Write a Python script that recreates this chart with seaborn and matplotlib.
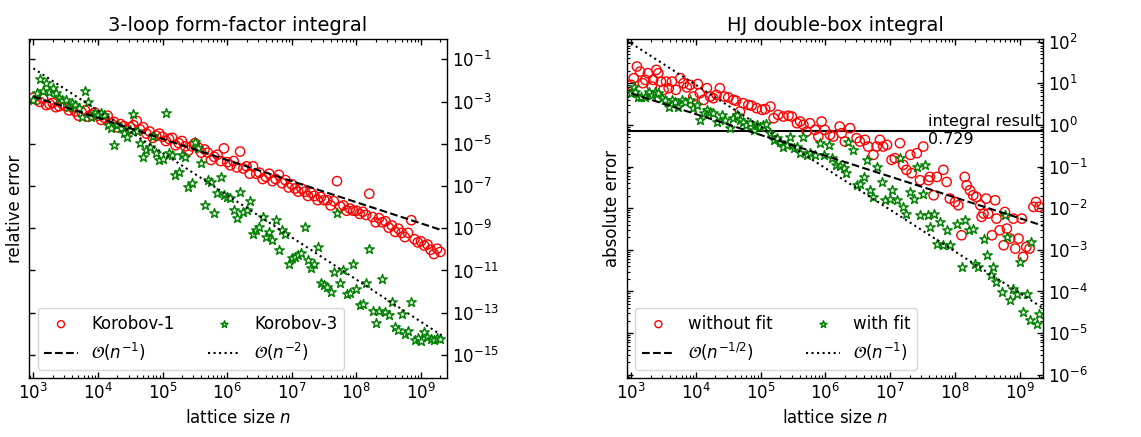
import numpy as np
import pandas as pd
import matplotlib
matplotlib.use("Agg")
import matplotlib.pyplot as plt
from matplotlib.ticker import LogLocator, NullLocator, FixedLocator
import seaborn as sns

# ---------------- data (log10 values) ----------------
# left panel: lattice sizes (log10 n)
left_x_exp = [
    3.00, 3.05, 3.10, 3.15, 3.20, 3.25, 3.30, 3.35, 3.40, 3.45,
    3.50, 3.55, 3.60, 3.65, 3.70, 3.75, 3.80, 3.85, 3.90, 3.95,
    4.00, 4.05, 4.10, 4.15, 4.20, 4.25, 4.30, 4.35, 4.40, 4.45,
    4.50, 4.55, 4.60, 4.65, 4.70, 4.75, 4.80, 4.85, 4.90, 4.95,
    5.00, 5.05, 5.10, 5.15, 5.20, 5.25, 5.30, 5.35, 5.40, 5.45,
    5.50, 5.55, 5.60, 5.65, 5.70, 5.75, 5.80, 5.85, 5.90, 5.95,
    6.00, 6.05, 6.10, 6.15, 6.20, 6.25, 6.30, 6.35, 6.40, 6.45,
    6.50, 6.55, 6.60, 6.65, 6.70, 6.75, 6.80, 6.85, 6.90, 6.95,
    7.00, 7.05, 7.10, 7.15, 7.20, 7.25, 7.30, 7.35, 7.40, 7.45,
    7.50, 7.55, 7.60, 7.65, 7.70, 7.75, 7.80, 7.85, 7.90, 7.95,
    8.00, 8.05, 8.10, 8.15, 8.20, 8.25, 8.30, 8.35, 8.40, 8.45,
    8.50, 8.55, 8.60, 8.65, 8.70, 8.75, 8.80, 8.85, 8.90, 8.95,
    9.00, 9.05, 9.10, 9.15, 9.20, 9.25, 9.30,
]
korobov1_exp = [
    -2.82, -2.92, -3.02, -2.87, -3.17, -3.12, -3.07, -3.27, -3.22, -3.12,
    -3.22, -3.42, -3.27, -3.47, -3.67, -3.52, -3.42, -3.72, -3.62, -3.52,
    -3.67, -3.87, -3.77, -3.67, -4.02, -3.97, -4.22, -4.07, -4.17, -4.37,
    -4.22, -4.12, -3.92, -4.32, -4.22, -4.52, -4.42, -4.72, -4.62, -4.52,
    -4.67, -4.87, -4.77, -4.72, -5.07, -4.97, -4.87, -5.12, -5.32, -5.12,
    -4.97, -5.17, -5.42, -5.27, -5.42, -5.77, -5.62, -5.52, -5.82, -5.22,
    -5.87, -6.02, -5.82, -6.12, -5.37, -6.17, -6.07, -6.42, -6.07, -6.42,
    -6.37, -6.67, -6.57, -6.42, -6.77, -6.67, -6.47, -6.87, -6.72, -7.07,
    -6.92, -7.12, -7.27, -7.12, -7.27, -7.47, -7.32, -7.47, -7.67, -7.52,
    -7.67, -7.67, -7.92, -7.72, -6.77, -7.97, -7.92, -8.17, -8.07, -8.17,
    -8.17, -8.32, -8.22, -8.37, -7.37, -8.47, -8.72, -8.52, -8.72, -8.67,
    -8.97, -8.87, -9.17, -9.02, -9.22, -9.42, -9.22, -8.62, -9.52, -9.67,
    -9.62, -9.82, -9.77, -10.02, -10.22, -9.97, -10.12,
]
korobov3_exp = [
    -2.93, -2.61, -1.95, -2.48, -2.14, -2.53, -2.37, -2.61, -2.85, -2.93,
    -2.93, -3.24, -3.09, -3.16, -3.32, -3.72, -2.49, -3.00, -3.72, -3.56,
    -3.64, -3.56, -3.64, -4.11, -4.27, -5.06, -4.11, -4.27, -4.51, -4.67,
    -4.35, -3.60, -4.40, -4.98, -5.61, -5.29, -5.14, -4.63, -5.45, -5.77,
    -5.70, -3.56, -5.45, -5.53, -6.48, -6.32, -5.53, -5.61, -7.03, -6.88,
    -4.90, -5.20, -5.93, -7.90, -6.72, -6.80, -8.27, -7.35, -6.56, -7.43,
    -7.50, -7.59, -8.14, -8.53, -7.27, -8.22, -8.14, -7.71, -9.25, -9.09,
    -8.93, -8.46, -9.40, -9.17, -9.56, -8.61, -10.04, -9.09, -9.25, -10.67,
    -10.43, -10.35, -10.27, -10.19, -8.93, -10.51, -10.90, -10.67, -9.90, -11.60,
    -11.70, -11.77, -12.00, -11.06, -8.30, -11.58, -11.00, -12.10, -12.05, -10.70,
    -11.90, -12.64, -12.60, -11.58, -9.96, -12.90, -13.50, -12.90, -11.40, -12.96,
    -13.10, -12.50, -13.67, -13.83, -13.04, -14.00, -13.85, -12.50, -14.27, -14.20,
    -14.33, -13.90, -14.14, -14.25, -14.30, -14.18, -14.22,
]

# right panel
nofit_x_exp = [
    3.00, 3.04, 3.09, 3.14, 3.18, 3.22, 3.26, 3.32, 3.34, 3.39,
    3.42, 3.46, 3.50, 3.54, 3.58, 3.63, 3.69, 3.76, 3.81, 3.86,
    3.91, 3.96, 4.03, 4.06, 4.12, 4.17, 4.22, 4.27, 4.32, 4.37,
    4.44, 4.50, 4.58, 4.62, 4.68, 4.73, 4.81, 4.86, 4.94, 5.02,
    5.07, 5.15, 5.20, 5.27, 5.35, 5.43, 5.48, 5.56, 5.61, 5.66,
    5.71, 5.76, 5.84, 5.89, 5.94, 5.99, 6.07, 6.12, 6.22, 6.25,
    6.30, 6.38, 6.48, 6.53, 6.61, 6.66, 6.74, 6.79, 6.84, 6.89,
    6.95, 7.02, 7.07, 7.15, 7.20, 7.25, 7.31, 7.33, 7.41, 7.46,
    7.51, 7.59, 7.61, 7.67, 7.72, 7.82, 7.87, 7.92, 8.00, 8.05,
    8.10, 8.15, 8.18, 8.23, 8.28, 8.33, 8.39, 8.41, 8.44, 8.48,
    8.51, 8.57, 8.62, 8.64, 8.69, 8.75, 8.77, 8.80, 8.85, 8.90,
    8.93, 8.98, 9.03, 9.05, 9.10, 9.15, 9.21, 9.25, 9.30,
]
nofit_exp = [
    0.96, 1.12, 1.40, 1.28, 1.00, 1.08, 1.24, 0.92, 1.08, 1.32,
    1.24, 1.04, 0.84, 1.04, 0.88, 1.04, 0.84, 1.12, 1.00, 0.90,
    0.96, 0.68, 0.98, 0.76, 0.60, 0.88, 0.68, 0.64, 0.72, 0.88,
    0.68, 0.66, 0.60, 0.58, 0.32, 0.52, 0.48, 0.46, 0.40, 0.36,
    0.38, 0.44, 0.16, 0.24, 0.20, 0.22, 0.20, 0.04, 0.08, 0.00,
    -0.16, 0.04, -0.12, -0.28, 0.08, -0.12, -0.24, -0.28, -0.04, -0.20,
    -0.40, -0.08, -0.32, -0.40, -0.36, -0.52, -0.72, -0.52, -0.36, -0.52,
    -0.48, -0.84, -0.80, -0.44, -0.96, -1.08, -0.72, -1.16, -0.68, -1.33,
    -0.52, -1.33, -1.25, -1.69, -1.25, -1.08, -1.37, -1.77, -1.85, -1.93,
    -2.65, -1.25, -1.45, -1.57, -1.69, -1.73, -1.93, -2.21, -2.13, -1.77,
    -2.13, -2.65, -1.81, -2.25, -2.53, -2.89, -2.09, -2.49, -2.73, -2.25,
    -2.97, -2.73, -2.25, -3.17, -2.93, -2.97, -1.97, -1.85, -1.97,
]
withfit_x_exp = [
    3.00, 3.04, 3.06, 3.11, 3.16, 3.22, 3.27, 3.32, 3.37, 3.42,
    3.47, 3.52, 3.58, 3.63, 3.68, 3.73, 3.78, 3.83, 3.91, 3.96,
    4.01, 4.06, 4.12, 4.17, 4.22, 4.27, 4.32, 4.40, 4.45, 4.53,
    4.58, 4.63, 4.68, 4.73, 4.78, 4.84, 4.89, 4.94, 4.99, 5.04,
    5.09, 5.15, 5.20, 5.25, 5.30, 5.35, 5.40, 5.46, 5.51, 5.56,
    5.61, 5.66, 5.71, 5.76, 5.84, 5.92, 5.97, 6.05, 6.10, 6.17,
    6.23, 6.28, 6.32, 6.35, 6.43, 6.48, 6.53, 6.59, 6.64, 6.69,
    6.74, 6.79, 6.87, 6.92, 7.00, 7.02, 7.10, 7.15, 7.20, 7.25,
    7.31, 7.36, 7.41, 7.46, 7.51, 7.54, 7.59, 7.61, 7.67, 7.72,
    7.77, 7.82, 7.87, 7.92, 8.03, 8.10, 8.15, 8.21, 8.28, 8.31,
    8.36, 8.44, 8.49, 8.55, 8.59, 8.64, 8.72, 8.77, 8.80, 8.85,
    8.90, 8.95, 9.00, 9.05, 9.11, 9.16, 9.18, 9.26, 9.30,
]
withfit_exp = [
    0.76, 0.92, 0.80, 0.68, 0.66, 0.68, 0.80, 0.72, 0.80, 0.76,
    0.64, 0.60, 0.44, 0.60, 0.56, 0.44, 0.60, 0.56, 0.60, 0.40,
    0.48, 0.12, 0.28, 0.36, 0.32, 0.28, 0.08, 0.24, 0.12, -0.08,
    0.16, 0.24, 0.12, 0.08, 0.00, 0.04, -0.12, 0.00, -0.04, 0.00,
    0.02, -0.20, -0.36, -0.32, -0.40, -0.52, -0.48, -0.28, -0.56, -0.52,
    -0.68, -0.28, -0.72, -0.68, -0.72, -0.44, -0.72, -0.48, -0.80, -0.96,
    -0.98, -1.04, -1.16, -0.40, -0.60, -1.45, -1.41, -1.25, -0.84, -1.57,
    -1.73, -1.00, -1.37, -1.81, -1.77, -1.57, -1.80, -0.80, -1.97, -2.13,
    -1.61, -1.77, -1.00, -2.17, -1.65, -0.96, -2.17, -2.45, -2.13, -2.85,
    -2.33, -2.89, -2.53, -2.89, -2.37, -3.41, -2.29, -2.53, -2.49, -3.33,
    -3.41, -2.73, -3.13, -3.61, -3.41, -3.77, -4.01, -2.17, -2.69, -4.21,
    -3.93, -4.05, -3.29, -4.49, -4.05, -4.69, -2.81, -4.77, -4.53,
]

# reference scaling lines: coefficient and exponent, drawn between end points
left_ref_range = [3.0, 9.32]
left_dash_coef, left_dash_pow = 10 ** 0.23, -1.0
left_dot_coef, left_dot_pow = 10 ** 4.57, -2.0
right_ref_range = [3.0, 9.36]
right_dash_coef, right_dash_pow = 10 ** 2.258, -0.5
right_dot_coef, right_dot_pow = 10 ** 4.96, -1.0
integral_result = 0.729

# ---------------- style ----------------
sns.set_theme(style="ticks")
plt.rcParams.update({
    "font.family": ["DejaVu Sans"],
    "text.color": "black",
    "axes.labelcolor": "black",
    "axes.edgecolor": "black",
    "xtick.color": "black",
    "ytick.color": "black",
    "axes.linewidth": 1.0,
    "mathtext.fontset": "dejavusans",
})

fig = plt.figure(figsize=(11.41, 4.37), dpi=100)
ax1 = fig.add_axes([0.0257, 0.135, 0.3658, 0.776])
ax2 = fig.add_axes([0.5493, 0.135, 0.3651, 0.776])

FS = 12


def scatter_pair(ax, xe1, ye1, lab1, xe2, ye2, lab2):
    d1 = pd.DataFrame({"n": 10 ** np.array(xe1), "err": 10 ** np.array(ye1)})
    d2 = pd.DataFrame({"n": 10 ** np.array(xe2), "err": 10 ** np.array(ye2)})
    sns.scatterplot(data=d1, x="n", y="err", ax=ax, marker="o", s=45,
                    facecolor="none", edgecolor="red", linewidth=1.0,
                    label=lab1, zorder=2)
    sns.scatterplot(data=d2, x="n", y="err", ax=ax, marker="*", s=50,
                    facecolor="white", edgecolor="green", linewidth=1.05,
                    label=lab2, zorder=2)


def ref_lines(ax, rng, c1, p1, lab1, c2, p2, lab2):
    n = 10 ** np.array(rng)
    sns.lineplot(x=n, y=c1 * n ** p1, ax=ax, color="black", linestyle="--",
                 linewidth=1.5, label=lab1, zorder=3)
    sns.lineplot(x=n, y=c2 * n ** p2, ax=ax, color="black", linestyle=":",
                 linewidth=1.5, label=lab2, zorder=3)


scatter_pair(ax1, left_x_exp, korobov1_exp, "Korobov-1",
             left_x_exp, korobov3_exp, "Korobov-3")
ref_lines(ax1, left_ref_range, left_dash_coef, left_dash_pow,
          r"$\mathcal{O}(n^{-1})$", left_dot_coef, left_dot_pow,
          r"$\mathcal{O}(n^{-2})$")

scatter_pair(ax2, nofit_x_exp, nofit_exp, "without fit",
             withfit_x_exp, withfit_exp, "with fit")
ref_lines(ax2, right_ref_range, right_dash_coef, right_dash_pow,
          r"$\mathcal{O}(n^{-1/2})$", right_dot_coef, right_dot_pow,
          r"$\mathcal{O}(n^{-1})$")
ax2.axhline(integral_result, color="black", linewidth=1.5, zorder=1)
ax2.text(10 ** 7.58, integral_result, "integral result\n0.729",
         ha="left", va="center", fontsize=11.5, linespacing=1.25)

for ax in (ax1, ax2):
    ax.set_xscale("log")
    ax.set_yscale("log")
    ax.tick_params(axis="both", which="both", direction="in",
                   top=True, right=True, left=True, bottom=True,
                   labelleft=False, labelright=True, labelsize=FS)
    ax.tick_params(which="major", length=4, width=1)
    ax.tick_params(which="minor", length=2, width=0.8)
    ax.xaxis.set_major_locator(FixedLocator([10.0 ** k for k in range(3, 10)]))
    ax.xaxis.set_minor_locator(LogLocator(base=10, subs=np.arange(2, 10), numticks=20))
    ax.set_xlabel(r"lattice size $n$", fontsize=FS)
    h, l = ax.get_legend_handles_labels()
    order = [0, 2, 1, 3]
    ax.legend([h[i] for i in order], [l[i] for i in order], ncol=2,
              loc="lower left", fontsize=FS, frameon=True, fancybox=True,
              framealpha=0.8, edgecolor="0.8", markerscale=0.75)

ax1.set_xlim(10 ** 2.938, 10 ** 9.398)
ax1.set_ylim(10 ** -16.09, 10 ** -0.036)
ax1.yaxis.set_major_locator(FixedLocator([10.0 ** k for k in range(-15, 0, 2)]))
ax1.yaxis.set_minor_locator(NullLocator())
ax1.set_ylabel("relative error", fontsize=FS)
ax1.set_title("3-loop form-factor integral", fontsize=14)

ax2.set_xlim(10 ** 2.933, 10 ** 9.363)
ax2.set_ylim(10 ** -6.077, 10 ** 2.064)
ax2.yaxis.set_major_locator(FixedLocator([10.0 ** k for k in range(-6, 3)]))
ax2.yaxis.set_minor_locator(LogLocator(base=10, subs=np.arange(2, 10), numticks=20))
ax2.set_ylabel("absolute error", fontsize=FS)
ax2.set_title("HJ double-box integral", fontsize=14)

fig.savefig("out.png", dpi=100)
